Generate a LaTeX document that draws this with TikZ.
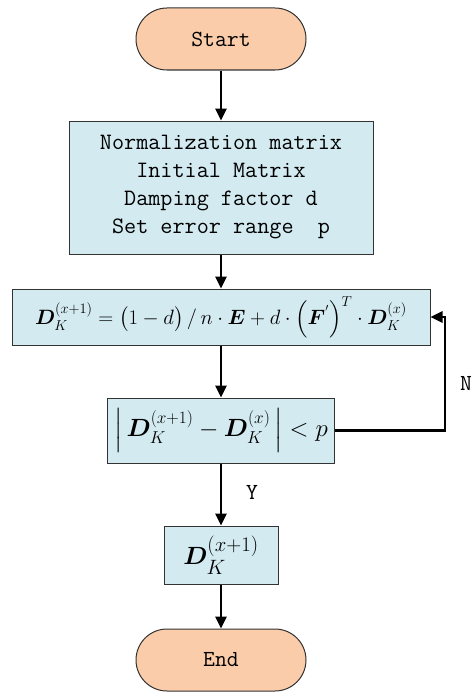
\documentclass[tikz,border=0pt]{standalone}
\usepackage{amsmath}
\usepackage{bm}
\usepackage{tikz}
\usetikzlibrary{positioning,arrows.meta}
\definecolor{boxblue}{RGB}{210,234,240}
\definecolor{pillorange}{RGB}{250,204,170}

\begin{document}
\begin{tikzpicture}[
x=1pt, y=1pt,
node distance=50pt,
box/.style={draw=black!80, line width=1pt, fill=boxblue, align=center, inner sep=0pt},
term/.style={draw=black!80, line width=1pt, fill=pillorange, rounded corners=31pt, minimum width=170pt, minimum height=62pt, font=\ttfamily\fontsize{23}{24}\selectfont},
arr/.style={-{Triangle[length=12pt,width=11pt]}, line width=2.6pt}
]
\useasboundingbox (0,0) rectangle (473,-693);
\node[term] (start) at (221,-39) {Start};
\node[box, below=50pt of start, minimum width=304pt, minimum height=133pt, font=\ttfamily\fontsize{23.5}{28}\selectfont] (init) {Normalization matrix\\Initial Matrix\\Damping factor d\\Set error range\ \ p};
\node[box, below=34pt of init, minimum width=418pt, minimum height=56pt, font=\fontsize{22}{26}\selectfont] (update)
  {$\bm{D}_K^{(x+1)}=\bigl(1-d\bigr)\,/\,n\cdot\bm{E}+d\cdot\Bigl(\bm{F}^{'}\Bigr)^{T}\cdot\bm{D}_K^{(x)}$};
\node[box, below=52pt of update, minimum width=227pt, minimum height=65pt, font=\fontsize{23}{26}\selectfont] (check)
  {$\Bigl|\,\bm{D}_K^{(x+1)}-\bm{D}_K^{(x)}\,\Bigr|<p$};
\node[box, below=62pt of check, minimum width=114pt, minimum height=58pt, font=\fontsize{29}{34}\selectfont] (result)
  {$\bm{D}_K^{(x+1)}$};
\node[term, below=44pt of result] (end) {End};
\coordinate[right=110pt of check.east] (turn);
\node[font=\ttfamily\fontsize{23}{24}\selectfont] (no) at (466,-383) {N};
\node[font=\ttfamily\fontsize{23}{24}\selectfont] (yes) at (252,-492) {Y};
\draw[arr] (start)--(init);
\draw[arr] (init)--(update);
\draw[arr] (update)--(check);
\draw[arr] (check)--(result);
\draw[arr] (result)--(end);
\draw[arr] (check.east)--(turn)|-(update.east);
\end{tikzpicture}
\end{document}
